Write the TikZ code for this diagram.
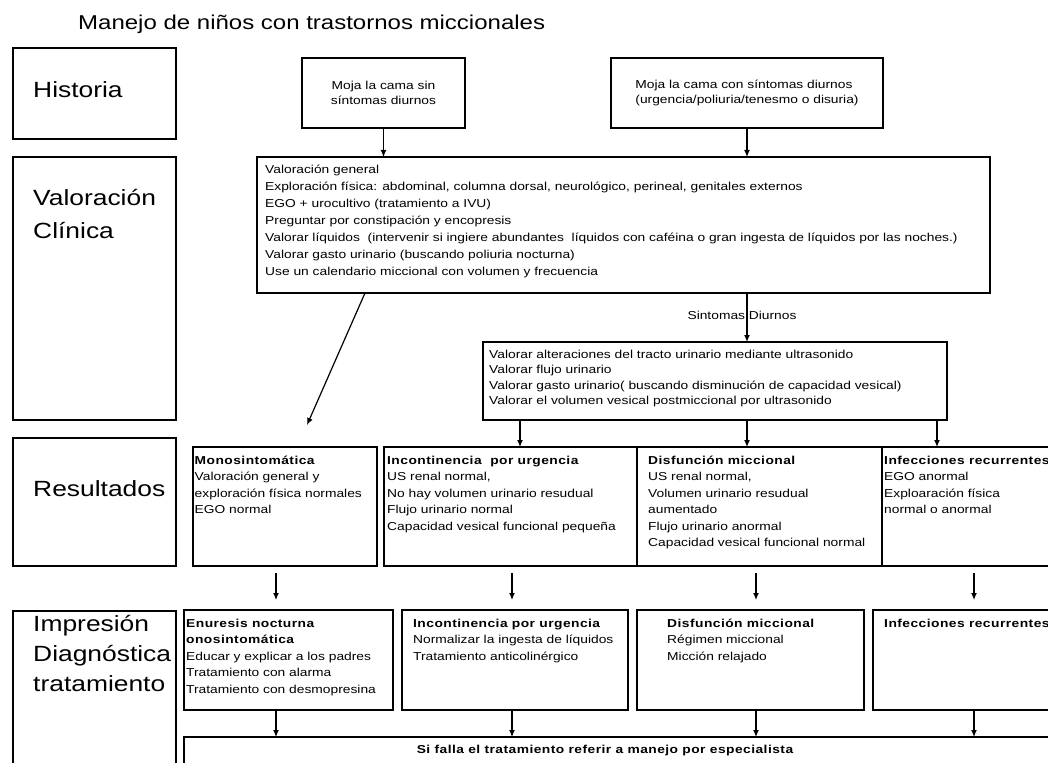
\documentclass[tikz,border=0pt]{standalone}
\usepackage{fontspec}
\setmainfont{Liberation Sans}[FakeStretch=1.2, BoldFeatures={LetterSpace=4}]
\usetikzlibrary{arrows.meta}
\def\chico{\fontsize{11.5}{16.5}\selectfont}
\def\grande{\fontsize{22}{30}\selectfont}

\begin{document}
\begin{tikzpicture}[x=1pt, y=-1pt,
		caja/.style={draw, line width=1.3pt, anchor=north west, inner sep=0pt, outer sep=0pt},
		texto/.style={anchor=north west, align=left, inner sep=0pt, font=\chico},
		rotulo/.style={anchor=base west, inner sep=0pt, font=\grande},
		flecha/.style={line width=1.2pt, -{Latex[length=7pt,width=6pt]}}]
			%%%%% START %%%%%
			\useasboundingbox (0,0) rectangle (1048,762);
			\clip (0,0) rectangle (1048,762);
			
			\node[anchor=base west, inner sep=0pt, font=\fontsize{20}{24}\selectfont] (titulo) at (78,30) {Manejo de niños con trastornos miccionales};
			
			% columna izquierda
			\node[caja, minimum width=163pt, minimum height=91pt] (hist) at (13,48) {};
			\node[caja, minimum width=163pt, minimum height=263pt] (valc) at (13,157) {};
			\node[caja, minimum width=163pt, minimum height=128pt] (res) at (13,438) {};
			\node[caja, minimum width=163pt, minimum height=200pt] (imp) at (13,611) {};
			
			\node[rotulo] (histT) at (33,98) {Historia};
			\node[texto, font=\fontsize{22}{33}\selectfont] (valcT) at (33,189) {Valoración\\Clínica};
			\node[rotulo] (resT) at (33,496) {Resultados};
			\node[texto, font=\grande] (impT) at (33,615) {Impresión\\Diagnóstica\\tratamiento};
			
			% historia
			\node[caja, minimum width=163pt, minimum height=70pt, align=center, font=\fontsize{11.5}{15}\selectfont] (moja1) at (302,58) {Moja la cama sin\\síntomas diurnos};
			\node[caja, minimum width=272pt, minimum height=70pt, align=left, font=\fontsize{11.5}{15}\selectfont] (moja2) at (611,58) {Moja la cama con síntomas diurnos\\(urgencia/poliuria/tenesmo o disuria)};
			
			% valoracion
			\node[caja, minimum width=733pt, minimum height=136pt] (valg) at (257,157) {};
			\node[texto, font=\fontsize{11.5}{17}\selectfont] (valgT) at ([xshift=8pt, yshift=-7.6pt]valg.north west) {Valoración general\\
				Exploración física: abdominal, columna dorsal, neurológico, perineal, genitales externos\\
				EGO + urocultivo (tratamiento a IVU)\\
				Preguntar por constipación y encopresis\\
				Valorar líquidos \ (intervenir si ingiere abundantes \ líquidos con caféina o gran ingesta de líquidos por las noches.)\\
				Valorar gasto urinario (buscando poliuria nocturna)\\
				Use un calendario miccional con volumen y frecuencia};
			
			\draw[flecha] (moja1.south) -- (moja1.south |- valg.north);
			\draw[flecha] (moja2.south) -- (moja2.south |- valg.north);
			
			\node[caja, minimum width=464pt, minimum height=78pt] (vesi) at (483,342) {};
			\node[texto, font=\fontsize{11.5}{15.5}\selectfont] (vesiT) at ([xshift=6pt, yshift=-7.6pt]vesi.north west) {Valorar alteraciones del tracto urinario mediante ultrasonido\\
				Valorar flujo urinario\\
				Valorar gasto urinario( buscando disminución de capacidad vesical)\\
				Valorar el volumen vesical postmiccional por ultrasonido};
			
			\coordinate (ejeS) at (747,0);
			\draw[flecha] (valg.south -| ejeS) -- (vesi.north -| ejeS);
			\node[inner sep=0pt, font=\chico] (sintD) at (742,315) {Sintomas Diurnos};
			
			% resultados
			\node[caja, minimum width=184pt, minimum height=119pt] (monr) at (193,447) {};
			\node[caja, minimum width=253pt, minimum height=119pt] (incr) at (384,447) {};
			\node[caja, minimum width=245pt, minimum height=119pt] (disr) at (637,447) {};
			\node[caja, minimum width=200pt, minimum height=119pt] (infr) at (882,447) {};
			
			\node[texto] (monrT) at ([xshift=1.5pt, yshift=-8.6pt]monr.north west) {\textbf{Monosintomática}\\Valoración general y\\exploración física normales\\EGO normal};
			\node[texto] (incrT) at ([xshift=3pt, yshift=-8.6pt]incr.north west) {\textbf{Incontinencia \ por urgencia}\\US renal normal,\\No hay volumen urinario resudual\\Flujo urinario normal\\Capacidad vesical funcional pequeña};
			\node[texto] (disrT) at ([xshift=11pt, yshift=-8.6pt]disr.north west) {\textbf{Disfunción miccional}\\US renal normal,\\Volumen urinario resudual\\aumentado\\Flujo urinario anormal\\Capacidad vesical funcional normal};
			\node[texto] (infrT) at ([xshift=2pt, yshift=-8.6pt]infr.north west) {\textbf{Infecciones recurrentes}\\EGO anormal\\Exploaración física\\normal o anormal};
			
			\coordinate (puntaM) at (307,425);
			\draw[flecha] (valg.south -| 365,0) -- (puntaM);
			\foreach \x/\de in {520/incr, 747/disr, 937/infr}
				\draw[flecha] (vesi.south -| \x,0) -- (\de.north -| \x,0);
			
			% impresion diagnostica
			\node[caja, minimum width=209pt, minimum height=100pt] (enu) at (184,610) {};
			\node[caja, minimum width=226pt, minimum height=100pt] (inci) at (402,610) {};
			\node[caja, minimum width=227pt, minimum height=100pt] (disi) at (637,610) {};
			\node[caja, minimum width=200pt, minimum height=100pt] (infi) at (873,610) {};
			
			\node[texto] (enuT) at ([xshift=2pt, yshift=-8.6pt]enu.north west) {\textbf{Enuresis nocturna}\\\textbf{onosintomática}\\Educar y explicar a los padres\\Tratamiento con alarma\\Tratamiento con desmopresina};
			\node[texto] (inciT) at ([xshift=11pt, yshift=-8.6pt]inci.north west) {\textbf{Incontinencia por urgencia}\\Normalizar la ingesta de líquidos\\Tratamiento anticolinérgico};
			\node[texto] (disiT) at ([xshift=30pt, yshift=-8.6pt]disi.north west) {\textbf{Disfunción miccional}\\Régimen miccional\\Micción relajado};
			\node[texto] (infiT) at ([xshift=11pt, yshift=-8.6pt]infi.north west) {\textbf{Infecciones recurrentes}};
			
			\foreach \x/\a/\b in {276/monr/enu, 512/incr/inci, 756/disr/disi, 974/infr/infi}
				\draw[flecha, shorten <=7pt, shorten >=10pt] (\a.south -| \x,0) -- (\b.north -| \x,0);
			
			% especialista
			\node[caja, minimum width=900pt, minimum height=60pt] (esp) at (184,737) {};
			\node[anchor=base, inner sep=0pt, font=\chico\bfseries] (espT) at (605,753) {Si falla el tratamiento referir a manejo por especialista};
			
			\foreach \x/\a in {276/enu, 512/inci, 756/disi, 974/infi}
				\draw[flecha, shorten <=1pt] (\a.south -| \x,0) -- (esp.north -| \x,0);
			
			%%%%% END %%%%%
\end{tikzpicture}
\end{document}
